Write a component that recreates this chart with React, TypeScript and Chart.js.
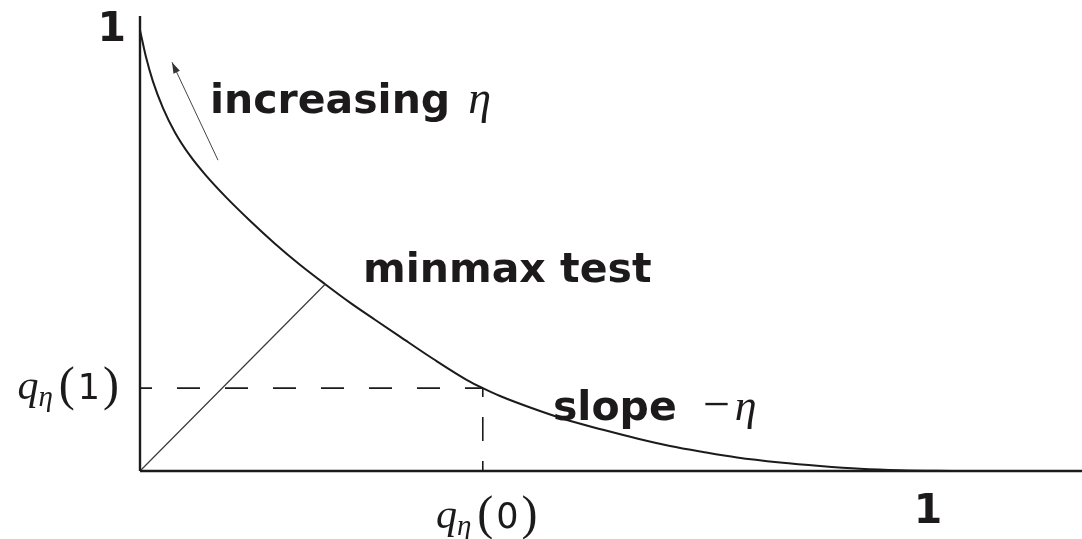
import React, { useEffect, useRef } from "react";
import { Chart, registerables } from "chart.js";

Chart.register(...registerables);

// Trade-off curve between the two error probabilities
const CURVE_X = [0, 0.0076, 0.0165, 0.0292, 0.0444, 0.0635, 0.0825, 0.1091, 0.1396, 0.1713, 0.203, 0.235, 0.2665, 0.2982, 0.3299, 0.3718, 0.415, 0.435, 0.4569, 0.4987, 0.5419, 0.5876, 0.6307, 0.6726, 0.7145, 0.7576, 0.8122, 0.8629, 0.9137, 0.9645, 1.0343];
const CURVE_Y = [1.0, 0.9388, 0.8832, 0.8231, 0.768, 0.7152, 0.6728, 0.6211, 0.5676, 0.5156, 0.4678, 0.4236, 0.3819, 0.3431, 0.3048, 0.2546, 0.2063, 0.188, 0.1701, 0.1417, 0.1156, 0.0934, 0.0737, 0.0567, 0.0431, 0.0306, 0.0193, 0.0113, 0.005, 0.0016, 0];

// Marked quantities
const Q_ETA_0 = 0.435; // q_η(0)
const Q_ETA_1 = 0.188; // q_η(1)
const MINMAX_POINT = [0.235, 0.4236];
const ARROW_FROM = [0.099, 0.705];
const ARROW_TO = [0.0406, 0.927];

// Axis extents
const X_MAX = 1.1954;
const Y_MAX = 1.032;

const INK = "#1c1a1b";
const SANS_BOLD = 'bold 41px "DejaVu Sans"';
const MATH_IT = (s: number) => `italic ${s}px "Liberation Serif"`;
const MATH_RM = (s: number) => `${s}px "Liberation Serif"`;
const SANS = (s: number) => `${s}px "DejaVu Sans"`;

type Part = { t: string; f: string; dy?: number; gap?: number };

function drawRich(ctx: CanvasRenderingContext2D, x: number, y: number, parts: Part[], align: "left" | "center" | "right") {
  let total = 0;
  for (const p of parts) {
    ctx.font = p.f;
    total += ctx.measureText(p.t).width + (p.gap || 0);
  }
  let cx = align === "left" ? x : align === "center" ? x - total / 2 : x - total;
  ctx.textAlign = "left";
  ctx.textBaseline = "alphabetic";
  for (const p of parts) {
    ctx.font = p.f;
    ctx.fillText(p.t, cx, y + (p.dy || 0));
    cx += ctx.measureText(p.t).width + (p.gap || 0);
  }
}

const annotationPlugin = {
  id: "figureText",
  afterDatasetsDraw(chart: any) {
    const { ctx, scales } = chart;
    const xs = scales.x;
    const ys = scales.y;
    const px = (v: number) => xs.getPixelForValue(v);
    const py = (v: number) => ys.getPixelForValue(v);
    ctx.save();

    // arrow head
    const ax0 = px(ARROW_FROM[0]);
    const ay0 = py(ARROW_FROM[1]);
    const ax1 = px(ARROW_TO[0]);
    const ay1 = py(ARROW_TO[1]);
    const ang = Math.atan2(ay1 - ay0, ax1 - ax0);
    const L = 11;
    const W = 3.5;
    ctx.fillStyle = "#333";
    ctx.beginPath();
    ctx.moveTo(ax1, ay1);
    ctx.lineTo(ax1 - L * Math.cos(ang) + W * Math.sin(ang), ay1 - L * Math.sin(ang) - W * Math.cos(ang));
    ctx.lineTo(ax1 - L * Math.cos(ang) - W * Math.sin(ang), ay1 - L * Math.sin(ang) + W * Math.cos(ang));
    ctx.closePath();
    ctx.fill();

    ctx.fillStyle = INK;
    const x0 = px(0);
    const yb = py(0);

    // axis unit labels
    ctx.font = 'bold 41px "DejaVu Sans"';
    ctx.textAlign = "right";
    ctx.textBaseline = "alphabetic";
    ctx.fillText("1", x0 - 14, py(1) + 11);
    ctx.textAlign = "center";
    ctx.fillText("1", px(1), yb + 52);

    // q_η(1) on the vertical axis, q_η(0) under the horizontal one
    const qParts = (d: string): Part[] => [
      { t: "q", f: MATH_IT(42) },
      { t: "η", f: MATH_IT(29), dy: 7, gap: 6 },
      { t: "(", f: MATH_RM(48), dy: 1, gap: 3 },
      { t: d, f: SANS(35), gap: 3 },
      { t: ")", f: MATH_RM(48), dy: 1 },
    ];
    drawRich(ctx, x0 - 21, py(Q_ETA_1) + 11, qParts("1"), "right");
    drawRich(ctx, px(Q_ETA_0) + 4, yb + 57, qParts("0"), "center");

    // curve annotations
    drawRich(ctx, px(0.0888), py(0.812), [
      { t: "increasing", f: SANS_BOLD, gap: 18 },
      { t: "η", f: MATH_IT(46) },
    ], "left");
    drawRich(ctx, px(0.283), py(0.4286), [{ t: "minmax test", f: SANS_BOLD }], "left");
    drawRich(ctx, px(0.524), py(0.1156), [
      { t: "slope", f: SANS_BOLD, gap: 26 },
      { t: "−", f: MATH_RM(48), gap: 5 },
      { t: "η", f: MATH_IT(44) },
    ], "left");
    ctx.restore();
  },
};

export default function App() {
  const ref = useRef<HTMLCanvasElement | null>(null);
  useEffect(() => {
    if (!ref.current) return;
    const line = (data: { x: number; y: number }[], extra: any) => ({
      data,
      showLine: true,
      pointRadius: 0,
      borderColor: INK,
      borderWidth: 2,
      fill: false,
      clip: false,
      ...extra,
    });
    const curve = CURVE_X.map((x, i) => ({ x, y: CURVE_Y[i] }));
    const chart = new Chart(ref.current, {
      type: "scatter",
      data: {
        datasets: [
          line([{ x: 0, y: 0 }, { x: 0, y: Y_MAX }], { borderWidth: 2.4 }),
          line([{ x: 0, y: 0 }, { x: X_MAX, y: 0 }], { borderWidth: 2.4 }),
          line([{ x: 0, y: Q_ETA_1 }, { x: Q_ETA_0, y: Q_ETA_1 }], { borderWidth: 1.6, borderDash: [23, 25], borderDashOffset: 11 }),
          line([{ x: Q_ETA_0, y: Q_ETA_1 }, { x: Q_ETA_0, y: 0 }], { borderWidth: 1.6, borderDash: [24, 20], borderDashOffset: 15 }),
          line([{ x: 0, y: 0 }, { x: MINMAX_POINT[0], y: MINMAX_POINT[1] }], { borderWidth: 1.2, borderColor: "#3a3a3a" }),
          line([{ x: ARROW_FROM[0], y: ARROW_FROM[1] }, { x: ARROW_TO[0], y: ARROW_TO[1] }], { borderWidth: 1, borderColor: "#444" }),
          line(curve, { cubicInterpolationMode: "monotone", borderWidth: 2 }),
        ],
      },
      options: {
        animation: false,
        responsive: false,
        events: [],
        layout: { padding: { left: 140, right: 0, top: 16, bottom: 68 } },
        scales: {
          x: { type: "linear", min: 0, max: X_MAX, display: false },
          y: { type: "linear", min: 0, max: Y_MAX, display: false },
        },
        plugins: { legend: { display: false }, tooltip: { enabled: false } },
      },
      plugins: [annotationPlugin],
    });
    return () => chart.destroy();
  }, []);
  return (
    <div style={{ position: "fixed", left: 0, top: 0, width: 1082, height: 539, background: "#fff" }}>
      <canvas ref={ref} width={1082} height={539} />
    </div>
  );
}
